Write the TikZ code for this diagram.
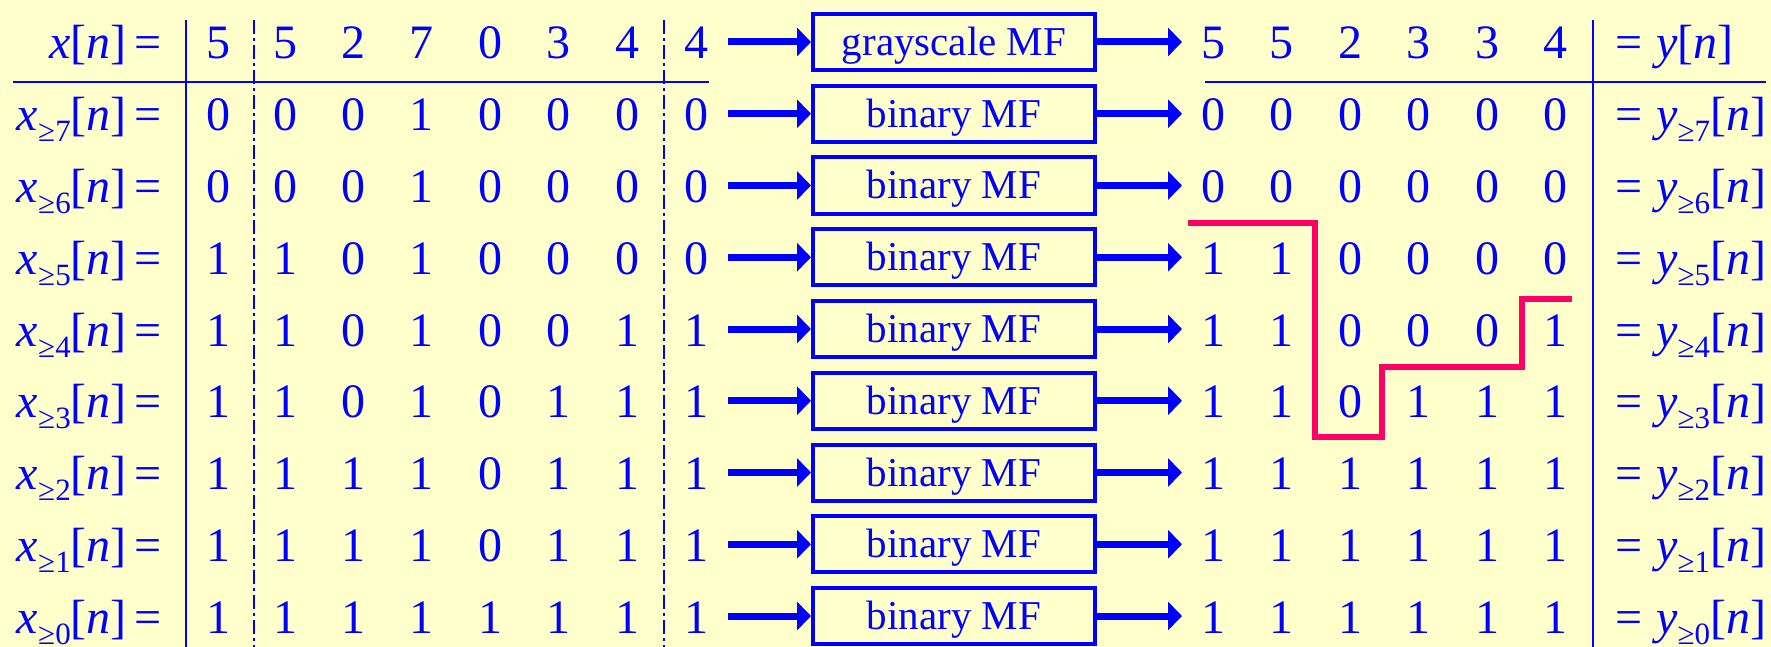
\documentclass[tikz,border=0pt]{standalone}
\usepackage{fontspec}
\setmainfont{Liberation Serif}
\usetikzlibrary{arrows.meta}
\definecolor{bg}{HTML}{FFFFCC}
\definecolor{ink}{HTML}{0000FF}
\definecolor{hot}{HTML}{FF0066}
\newcommand{\sbx}[1]{\raisebox{-11pt}{\fontsize{31}{31}\selectfont #1}}
\begin{document}
\begin{tikzpicture}[x=1pt,y=-1pt,
  txt/.style={inner sep=0pt, text=ink, font=\fontsize{48}{50}\selectfont},
  digit/.style={txt, anchor=base},
  mfbox/.style={draw=ink, line width=4pt, minimum width=282pt, minimum height=56pt,
     inner sep=0pt, text=ink, font=\fontsize{41}{45}\selectfont, text height=37pt, text depth=10pt},
  flow/.style={draw=ink, line width=7pt, -{Triangle[length=14pt,width=28pt]}},
  rule/.style={draw=ink, line width=2.5pt},
  dashdot/.style={draw=ink, line width=2.2pt, dash pattern=on 14pt off 4pt on 3pt off 4pt},
  stair/.style={draw=hot, line width=6pt, line join=miter}
]
\fill[bg] (0,0) rectangle (1771,647);
\useasboundingbox (0,0) rectangle (1771,647);

% grid lines
\draw[rule] (186,20) -- (186,647);
\draw[rule] (1593,20) -- (1593,647);
\draw[rule] (13,82) -- (709,82);
\draw[rule] (1205,82) -- (1766,82);
\draw[dashdot] (254,20) -- (254,647);
\draw[dashdot] (664,20) -- (664,647);

% row 0
\node[txt, anchor=base east] (lx0) at (162,59) {\textit{x}[\textit{n}]\kern8pt=};
\node[txt, anchor=base west] (ly0) at (1615,59) {=\kern14pt\textit{y}[\textit{n}]};
\foreach \v [count=\c] in {5,5,2,7,0,3,4,4} {
  \pgfmathsetmacro\xx{{218,285,353.4,421.8,490.2,558.6,627,696}[\c-1]}
  \node[digit] (in0-\c) at (\xx,59) {\v};
}
\foreach \v [count=\c] in {5,5,2,3,3,4} {
  \pgfmathsetmacro\xx{1213+68.5*(\c-1)}
  \node[digit] (out0-\c) at (\xx,59) {\v};
}
\node[mfbox] (box0) at (954,42) {grayscale MF};
\coordinate (a0) at (728,42);
\coordinate (b0) at (1182,42);
\draw[flow] (a0) -- (box0.west);
\draw[flow] (box0.east) -- (b0);

% bit-plane rows
\foreach \r/\vals/\outs in {
  1/{0,0,0,1,0,0,0,0}/{0,0,0,0,0,0},
  2/{0,0,0,1,0,0,0,0}/{0,0,0,0,0,0},
  3/{1,1,0,1,0,0,0,0}/{1,1,0,0,0,0},
  4/{1,1,0,1,0,0,1,1}/{1,1,0,0,0,1},
  5/{1,1,0,1,0,1,1,1}/{1,1,0,1,1,1},
  6/{1,1,1,1,0,1,1,1}/{1,1,1,1,1,1},
  7/{1,1,1,1,0,1,1,1}/{1,1,1,1,1,1},
  8/{1,1,1,1,1,1,1,1}/{1,1,1,1,1,1}} {
  \pgfmathsetmacro\yc{43+71.75*\r}
  \pgfmathsetmacro\yb{\yc+16}
  \pgfmathtruncatemacro\s{8-\r}
  \node[txt, anchor=base east] (lx\r) at (162,\yb) {\textit{x}\sbx{≥\s}[\textit{n}]\kern8pt=};
  \node[txt, anchor=base west] (ly\r) at (1615,\yb) {=\kern14pt\textit{y}\sbx{≥\s}[\textit{n}]};
  \foreach \v [count=\c] in \vals {
    \pgfmathsetmacro\xx{{218,285,353.4,421.8,490.2,558.6,627,696}[\c-1]}
    \node[digit] (in\r-\c) at (\xx,\yb) {\v};
  }
  \foreach \v [count=\c] in \outs {
    \pgfmathsetmacro\xx{1213+68.5*(\c-1)}
    \node[digit] (out\r-\c) at (\xx,\yb) {\v};
  }
  \node[mfbox] (box\r) at (954,\yc-1) {binary MF};
  \coordinate (a\r) at (728,\yc-1);
  \coordinate (b\r) at (1182,\yc-1);
  \draw[flow] (a\r) -- (box\r.west);
  \draw[flow] (box\r.east) -- (b\r);
}

% staircase boundary
\draw[stair] (1188,223) -| (1315,437) -| (1382,367) -| (1522,299) -- (1572,299);
\end{tikzpicture}
\end{document}
